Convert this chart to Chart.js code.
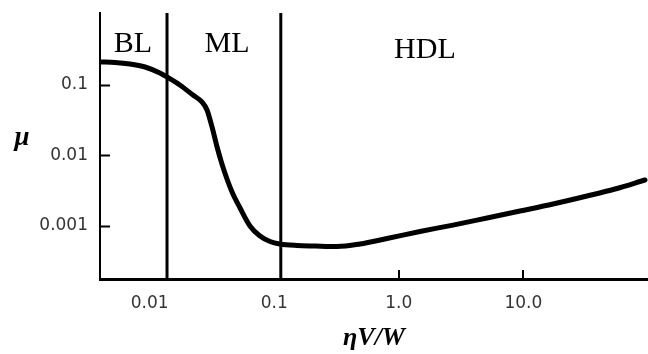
<!DOCTYPE html>
<html>
<head>
<meta charset="utf-8">
<script src="https://cdn.jsdelivr.net/npm/chart.js@4.4.1/dist/chart.umd.min.js"></script>
<style>
  html, body { margin: 0; padding: 0; background: #fff; }
  #wrap { width: 648px; height: 354px; }
</style>
</head>
<body>
<div id="wrap"><canvas id="c" width="648" height="354"></canvas></div>
<script>
// ---- data ----
const etaVW = [0.0040, 0.00528, 0.00696, 0.00919, 0.0121, 0.0138, 0.0175, 0.0223, 0.0263, 0.0289,
  0.0317, 0.0348, 0.0381, 0.0418, 0.0459, 0.0532, 0.0639, 0.0769, 0.0926, 0.111,
  0.152, 0.213, 0.319, 0.488, 0.804, 1.48, 2.72, 5.11, 9.39, 17.3, 32.4, 54.4, 94.6];
const mu = [0.212, 0.209, 0.199, 0.180, 0.148, 0.130, 0.100, 0.0721, 0.0574, 0.0442,
  0.0254, 0.0132, 0.00757, 0.00464, 0.00304, 0.00180, 0.00100, 0.00072, 0.000603, 0.000556,
  0.000529, 0.000520, 0.000512, 0.000556, 0.000665, 0.000836, 0.00103, 0.00130, 0.00163, 0.00205,
  0.00266, 0.00335, 0.00449];

const regionBoundaries = [0.0138, 0.113];          // BL|ML and ML|HDL
const regionNames = ["BL", "ML", "HDL"];
const regionNameX = [0.00736, 0.0418, 1.62];
const regionNameY = [0.294, 0.294, 0.2415];

const xTickValues = [0.01, 0.1, 1, 10];
const xTickLabels = ["0.01", "0.1", "1.0", "10.0"];
const xTickMarks = [1, 10];
const yTickValues = [0.001, 0.01, 0.1];
const yTickLabels = ["0.001", "0.01", "0.1"];

const xMin = 0.004, xMax = 100;
const yMin = 0.000177, yMax = 1.05;

const xTitle = "\u03B7V/W";
const yTitle = "\u03BC";

// ---- chart ----
Chart.defaults.font.family = "'DejaVu Sans', sans-serif";
Chart.defaults.color = "#333";

const curve = etaVW.map((x, i) => ({ x: x, y: mu[i] }));
const boundaryDatasets = regionBoundaries.map(b => ({
  data: [{ x: b, y: yMin }, { x: b, y: yMax }],
  borderColor: "#000",
  borderWidth: 3,
  pointRadius: 0,
  tension: 0
}));

const decorPlugin = {
  id: "decor",
  afterDraw(chart) {
    const ctx = chart.ctx;
    const xs = chart.scales.x, ys = chart.scales.y;
    const area = chart.chartArea;
    ctx.save();
    ctx.strokeStyle = "#000";
    ctx.lineWidth = 2;
    // inward tick marks
    yTickValues.forEach(v => {
      const py = Math.round(ys.getPixelForValue(v)) + 0.5;
      ctx.beginPath(); ctx.moveTo(area.left, py); ctx.lineTo(area.left + 10, py); ctx.stroke();
    });
    xTickMarks.forEach(v => {
      const px = Math.round(xs.getPixelForValue(v));
      ctx.beginPath(); ctx.moveTo(px, area.bottom); ctx.lineTo(px, area.bottom - 9); ctx.stroke();
    });
    // region names
    ctx.fillStyle = "#000";
    ctx.font = "30px 'Liberation Serif', serif";
    ctx.textAlign = "center";
    ctx.textBaseline = "alphabetic";
    regionNames.forEach((n, i) => {
      ctx.fillText(n, xs.getPixelForValue(regionNameX[i]), ys.getPixelForValue(regionNameY[i]));
    });
    // y axis title (horizontal)
    ctx.font = "bold italic 27px 'Liberation Serif', serif";
    ctx.fillText(yTitle, 22, 145);
    ctx.restore();
  }
};

new Chart(document.getElementById("c"), {
  type: "line",
  data: {
    datasets: [
      {
        data: curve,
        borderColor: "#000",
        borderWidth: 5,
        pointRadius: 0,
        cubicInterpolationMode: "monotone",
        borderCapStyle: "round"
      },
      ...boundaryDatasets
    ]
  },
  options: {
    responsive: false,
    animation: false,
    events: [],
    layout: { padding: { top: 13, left: 0, right: 0, bottom: 0 }, autoPadding: false },
    plugins: { legend: { display: false }, tooltip: { enabled: false } },
    scales: {
      x: {
        type: "logarithmic",
        min: xMin, max: xMax,
        afterBuildTicks: s => { s.ticks = xTickValues.map(v => ({ value: v })); },
        afterFit: s => { s.height = 75; s.paddingLeft = 0; s.paddingRight = 0; },
        grid: { display: false, drawTicks: false },
        border: { display: true, color: "#000", width: 3 },
        ticks: {
          autoSkip: false, maxRotation: 0, padding: 14,
          font: { size: 17 },
          callback: (v) => { const i = xTickValues.indexOf(v); return i >= 0 ? xTickLabels[i] : ""; }
        },
        title: {
          display: true, text: xTitle, color: "#000",
          font: { family: "'Liberation Serif', serif", size: 26, style: "italic", weight: "bold" },
          padding: { top: 4, bottom: 0 }
        }
      },
      y: {
        type: "logarithmic",
        min: yMin, max: yMax,
        afterBuildTicks: s => { s.ticks = yTickValues.map(v => ({ value: v })); },
        afterFit: s => { s.width = 100; s.paddingTop = 0; s.paddingBottom = 0; },
        grid: { display: false, drawTicks: false },
        border: { display: true, color: "#000", width: 2 },
        ticks: {
          autoSkip: false, padding: 12,
          font: { size: 17 },
          callback: (v) => { const i = yTickValues.indexOf(v); return i >= 0 ? yTickLabels[i] : ""; }
        }
      }
    }
  },
  plugins: [decorPlugin]
});
</script>
</body>
</html>
